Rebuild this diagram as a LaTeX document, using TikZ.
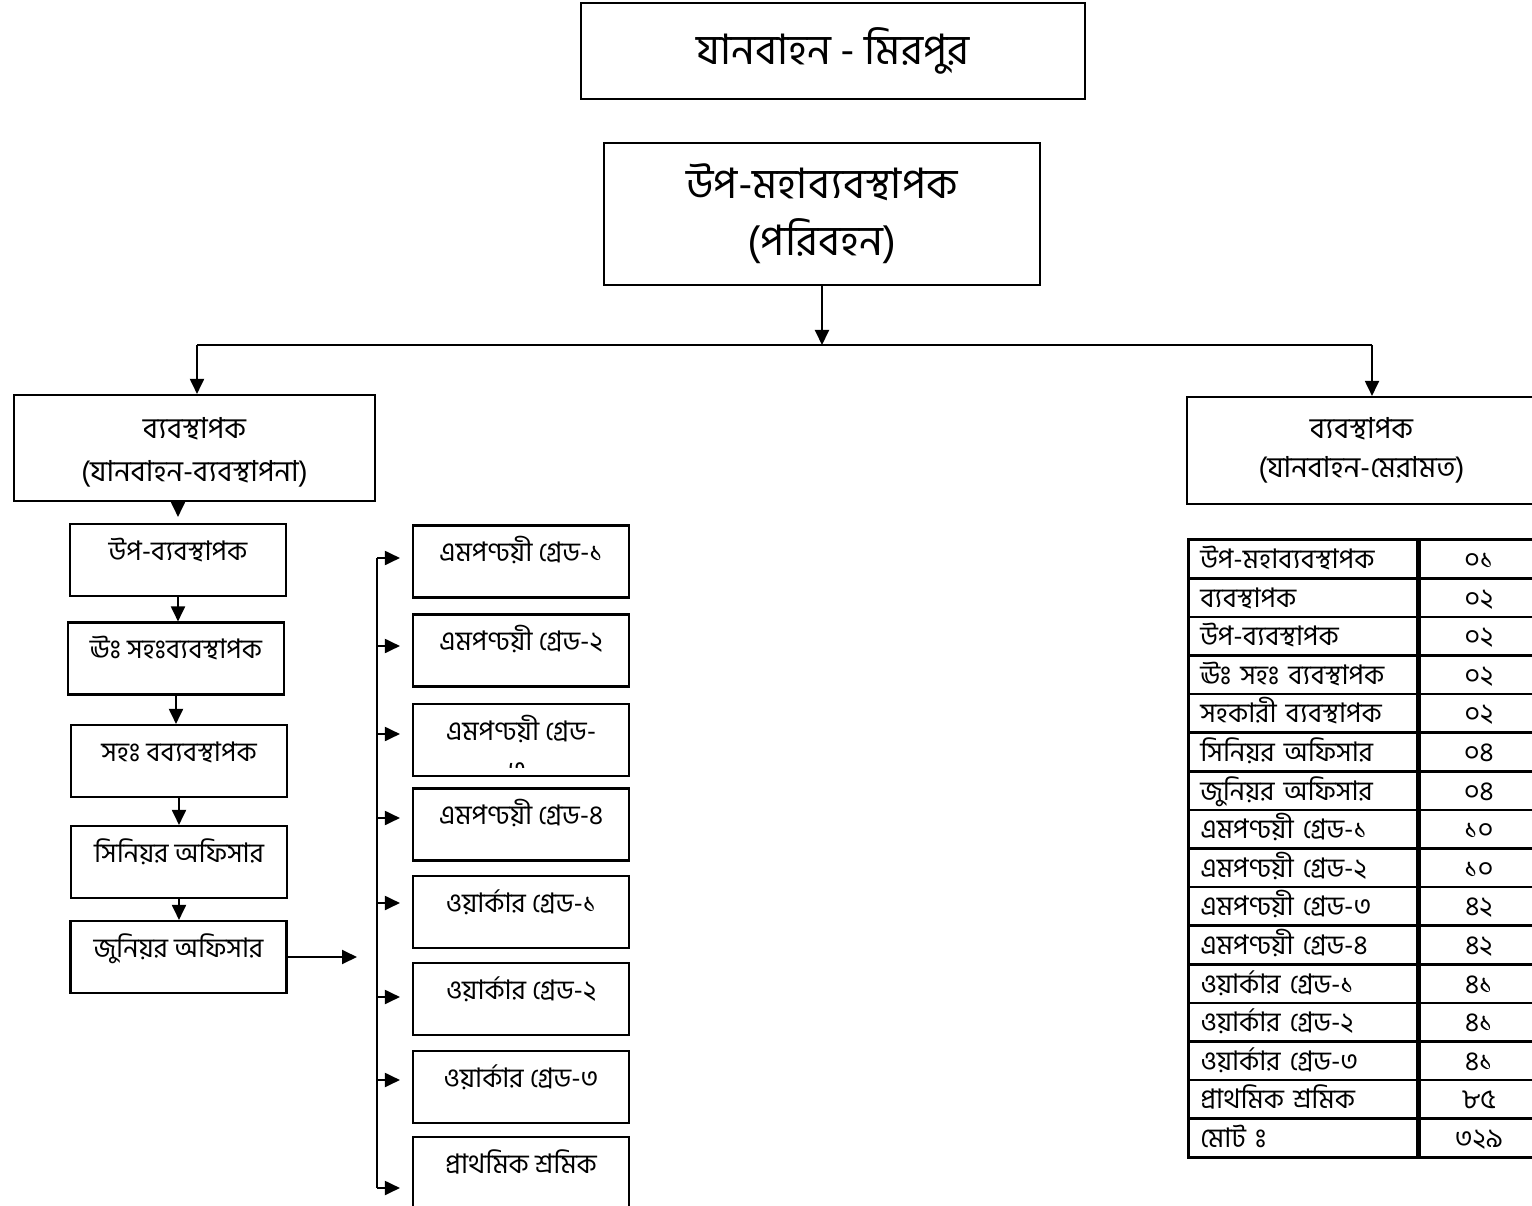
\documentclass[tikz,border=0pt]{standalone}
\usepackage{fontspec}
\setmainfont[Script=Bengali]{Hind Siliguri}
\usetikzlibrary{arrows.meta}
\tikzset{
  box/.style={draw, line width=2.1pt, align=center},
  cell/.style={draw, line width=2.1pt, minimum width=216pt, minimum height=72pt,
    font=\fontsize{27}{30}\selectfont, text height=16pt, text depth=16pt},
  arr/.style={line width=1.9pt, -{Triangle[length=15pt,width=14pt]}},
  row/.style={draw, line width=2.6pt, minimum height=38.6pt, inner sep=0pt,
    font=\fontsize{27}{30}\selectfont, text height=22pt, text depth=3pt, anchor=north west},
}
% visarga without a base letter
\newcommand{\bnvisarga}{\XeTeXglyph\XeTeXcharglyph"0983\relax}
\begin{document}
\begin{tikzpicture}[x=1pt,y=-1pt]
   \useasboundingbox (0,0) rectangle (1532,1206);

   % boxes at the top
   \node[box, minimum width=504pt, minimum height=96pt, font=\fontsize{42}{48}\selectfont] (title) at (833,51) {যানবাহন - মিরপুর};
   \node[box, minimum width=436pt, minimum height=142pt, font=\fontsize{42}{57}\selectfont] (dgm) at (822,214) {উপ-মহাব্যবস্থাপক\\(পরিবহন)};

   \node[box, minimum width=361pt, minimum height=106pt, font=\fontsize{29}{43}\selectfont] (lmgr) at (194.5,448) {\rule{0pt}{30pt}ব্যবস্থাপক\\(যানবাহন-ব্যবস্থাপনা)};
   \node[box, minimum width=357pt, minimum height=107pt, font=\fontsize{29}{39}\selectfont] (rmgr) at (1365.5,450.5) {ব্যবস্থাপক\hspace*{8pt}\\(যানবাহন-মেরামত)\hspace*{8pt}};

   \coordinate (busL) at (197,345);
   \coordinate (busR) at (1372,345);
   \draw[arr] (dgm.south) -- (dgm.south |- busL);
   \draw[line width=1.9pt] (busL) -- (busR);
   \draw[arr] (busL) -- (busL |- lmgr.north);
   \draw[arr] (busR) -- (busR |- rmgr.north);

   % left column
   \node[cell] (dm) at (178,560) {উপ-ব্যবস্থাপক};
   \node[cell] (dam) at (176,658.5) {ঊঃ সহঃব্যবস্থাপক};
   \node[cell] (am) at (179,761) {সহঃ বব্যবস্থাপক};
   \node[cell] (so) at (179,862) {সিনিয়র অফিসার};
   \node[cell] (jo) at (178.5,957) {জুনিয়র অফিসার};

   \draw[arr, shorten >=6pt] (lmgr.south -| dm.north) -- (dm.north);
   \draw[arr] (dm.south) -- (dm.south |- dam.north);
   \draw[arr] (dam.south) -- (dam.south |- am.north);
   \draw[arr] (am.south) -- (am.south |- so.north);
   \draw[arr] (so.south) -- (so.south |- jo.north);

   % grades
   \node[cell] (g1) at (521,561.5) {এমপণ্ঢয়ী গ্রেড-১};
   \node[cell] (g2) at (521,650.5) {এমপণ্ঢয়ী গ্রেড-২};
   \node[cell] (g3) at (521,740) {এমপণ্ঢয়ী গ্রেড-};
   \node[cell] (g4) at (521,824.5) {এমপণ্ঢয়ী গ্রেড-৪};
   \node[cell] (g5) at (521,912) {ওয়ার্কার গ্রেড-১};
   \node[cell] (g6) at (521,999) {ওয়ার্কার গ্রেড-২};
   \node[cell] (g7) at (521,1087) {ওয়ার্কার গ্রেড-৩};
   \node[cell] (g8) at (521,1173) {প্রাথমিক শ্রমিক};
   \begin{scope}
     \clip (413,700) rectangle (629,767);
     \node[anchor=north, inner sep=0pt, font=\fontsize{27}{30}\selectfont] (g3x) at (517,763) {৩};
   \end{scope}

   \coordinate (a1) at (377,558);
   \coordinate (a2) at (377,646);
   \coordinate (a3) at (377,734);
   \coordinate (a4) at (377,818);
   \coordinate (a5) at (377,903);
   \coordinate (a6) at (377,997);
   \coordinate (a7) at (377,1080);
   \coordinate (a8) at (377,1188);
   \draw[line width=1.9pt] (a1) -- (a8);
   \draw[arr, shorten >=20pt] (jo.east) -- (jo.east -| a1);
   \draw[arr, shorten >=12pt] (a1) -- (a1 -| g1.west);
   \draw[arr, shorten >=12pt] (a2) -- (a2 -| g2.west);
   \draw[arr, shorten >=12pt] (a3) -- (a3 -| g3.west);
   \draw[arr, shorten >=12pt] (a4) -- (a4 -| g4.west);
   \draw[arr, shorten >=12pt] (a5) -- (a5 -| g5.west);
   \draw[arr, shorten >=12pt] (a6) -- (a6 -| g6.west);
   \draw[arr, shorten >=12pt] (a7) -- (a7 -| g7.west);
   \draw[arr, shorten >=12pt] (a8) -- (a8 -| g8.west);

   % table on the right
   \foreach \lab/\num [count=\i] in {উপ-মহাব্যবস্থাপক/০১, ব্যবস্থাপক/০২, উপ-ব্যবস্থাপক/০২,
       ঊঃ সহঃ ব্যবস্থাপক/০২, সহকারী ব্যবস্থাপক/০২, সিনিয়র অফিসার/০৪, জুনিয়র অফিসার/০৪,
       এমপণ্ঢয়ী গ্রেড-১/১০, এমপণ্ঢয়ী গ্রেড-২/১০, এমপণ্ঢয়ী গ্রেড-৩/৪২, এমপণ্ঢয়ী গ্রেড-৪/৪২,
       ওয়ার্কার গ্রেড-১/৪১, ওয়ার্কার গ্রেড-২/৪১, ওয়ার্কার গ্রেড-৩/৪১, প্রাথমিক শ্রমিক/৮৫, মোট \bnvisarga/৩২৯}
   {
     \node[row, inner xsep=12pt, text width=205pt, align=left] (t\i) at (1187,{538.3+38.6*(\i-1)}) {\lab};
     \node[row, minimum width=126pt] (n\i) at (t\i.north east) {\hspace*{-8pt}\num};
   }
\end{tikzpicture}
\end{document}
